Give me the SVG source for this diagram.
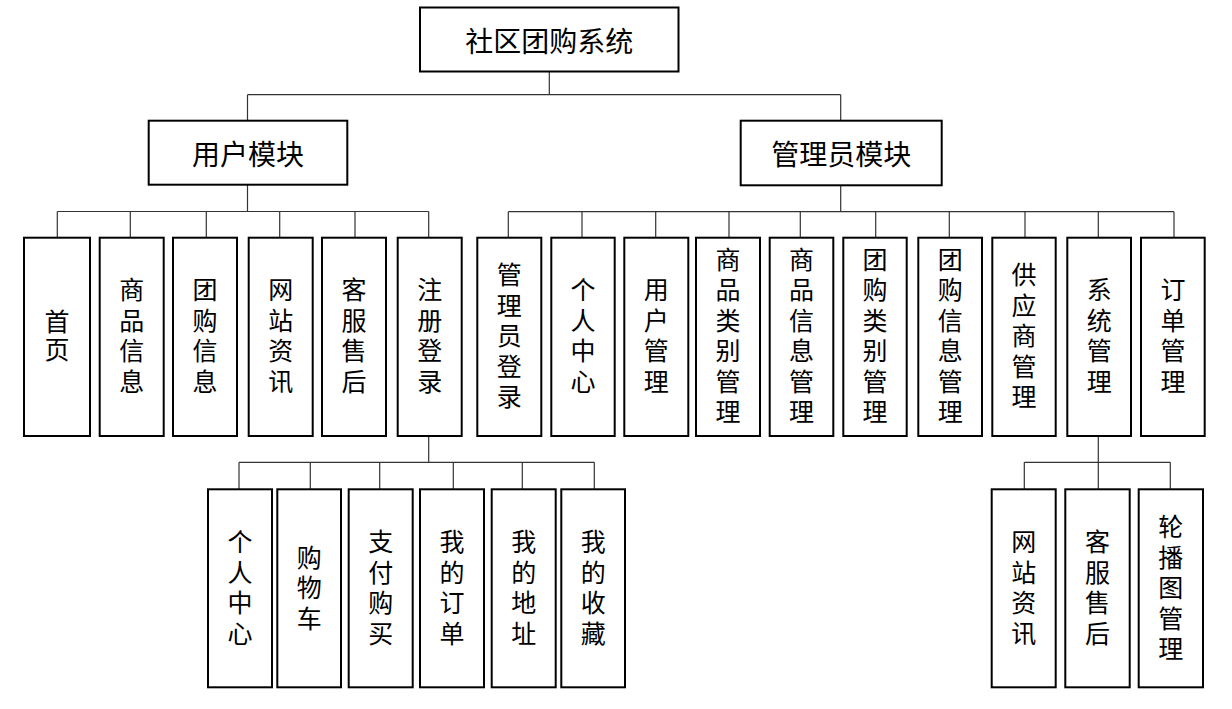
<svg xmlns="http://www.w3.org/2000/svg" width="1232" height="709" viewBox="0 0 1232 709">
<style>
.box{fill:#fff;stroke:#000;stroke-width:2}
.ln{fill:none;stroke:#333;stroke-width:1.2}
.h{font-family:"Noto Sans CJK SC","Liberation Serif",sans-serif;font-size:28px;fill:#000;text-anchor:middle;dominant-baseline:central}
.v{font-family:"Noto Sans CJK SC","Liberation Serif",sans-serif;font-size:25px;fill:#000;text-anchor:middle;writing-mode:vertical-rl;letter-spacing:5.5px}
</style>
<rect width="1232" height="709" fill="#fff"/>
<g id="connectors">
<path class="ln" d="M549.3 71.3V94.7M247.5 94.7H840.7M247.5 94.7V120.7M840.7 94.7V120.7"/>
<path class="ln" d="M247.5 184.7V211.5M57.3 211.5H428.7M57.3 211.5V237.7M130.3 211.5V237.7M206.3 211.5V237.7M279.7 211.5V237.7M355 211.5V237.7M428.7 211.5V237.7"/>
<path class="ln" d="M840.7 185.3V211.7M508.3 211.7H1174M508.3 211.7V237.7M582 211.7V237.7M655.7 211.7V237.7M729 211.7V237.7M800.3 211.7V237.7M875.7 211.7V237.7M949.3 211.7V237.7M1025 211.7V237.7M1098.3 211.7V237.7M1174 211.7V237.7"/>
<path class="ln" d="M428.7 436V462.3M239 462.3H594.3M239 462.3V489.3M310.3 462.3V489.3M379.7 462.3V489.3M453.3 462.3V489.3M522.3 462.3V489.3M594.3 462.3V489.3"/>
<path class="ln" d="M1098.3 436V462.3M1024.3 462.3H1170.3M1024.3 462.3V489.3M1098.3 462.3V489.3M1170.3 462.3V489.3"/>
</g>
<g id="root"><rect class="box" x="420" y="7.5" width="258.5" height="64"/><text class="h" x="549.3" y="39.5">社区团购系统</text></g>
<g id="user"><rect class="box" x="148.7" y="120.7" width="198.6" height="64"/><text class="h" x="248" y="152.7">用户模块</text></g>
<g id="admin"><rect class="box" x="740.7" y="120.7" width="201" height="64.6"/><text class="h" x="841.2" y="153">管理员模块</text></g>

<g id="u1"><rect class="box" x="24" y="237.7" width="66" height="198.3"/><text class="v" x="57" y="337" style="letter-spacing:3px">首页</text></g>
<g id="u2"><rect class="box" x="99.7" y="237.7" width="64" height="198.3"/><text class="v" x="131.7" y="338.25">商品信息</text></g>
<g id="u3"><rect class="box" x="173" y="237.7" width="64" height="198.3"/><text class="v" x="205" y="338.25">团购信息</text></g>
<g id="u4"><rect class="box" x="248.7" y="237.7" width="64" height="198.3"/><text class="v" x="280.7" y="338.25">网站资讯</text></g>
<g id="u5"><rect class="box" x="322" y="237.7" width="64" height="198.3"/><text class="v" x="354" y="338.25">客服售后</text></g>
<g id="u6"><rect class="box" x="397.7" y="237.7" width="64" height="198.3"/><text class="v" x="429.7" y="338.25">注册登录</text></g>

<g id="a1"><rect class="box" x="477.3" y="237.7" width="64" height="198.3"/><text class="v" x="509.3" y="338.25">管理员登录</text></g>
<g id="a2"><rect class="box" x="551.3" y="237.7" width="63.4" height="198.3"/><text class="v" x="583" y="338.25">个人中心</text></g>
<g id="a3"><rect class="box" x="624.3" y="237.7" width="64" height="198.3"/><text class="v" x="656.3" y="338.25">用户管理</text></g>
<g id="a4"><rect class="box" x="696" y="237.7" width="64" height="198.3"/><text class="v" x="728" y="338.25">商品类别管理</text></g>
<g id="a5"><rect class="box" x="769.7" y="237.7" width="63.6" height="198.3"/><text class="v" x="801.5" y="338.25">商品信息管理</text></g>
<g id="a6"><rect class="box" x="843.3" y="237.7" width="63.4" height="198.3"/><text class="v" x="875" y="338.25">团购类别管理</text></g>
<g id="a7"><rect class="box" x="918.3" y="237.7" width="63.7" height="198.3"/><text class="v" x="950.2" y="338.25">团购信息管理</text></g>
<g id="a8"><rect class="box" x="992.3" y="237.7" width="63.4" height="198.3"/><text class="v" x="1024" y="338.25">供应商管理</text></g>
<g id="a9"><rect class="box" x="1067.3" y="237.7" width="63.7" height="198.3"/><text class="v" x="1099.2" y="338.25">系统管理</text></g>
<g id="a10"><rect class="box" x="1141" y="237.7" width="63.7" height="198.3"/><text class="v" x="1172.9" y="338.25">订单管理</text></g>

<g id="r1"><rect class="box" x="208" y="489.3" width="64" height="198"/><text class="v" x="240" y="590.25">个人中心</text></g>
<g id="r2"><rect class="box" x="277.3" y="489.3" width="63.7" height="198"/><text class="v" x="309.2" y="590.25">购物车</text></g>
<g id="r3"><rect class="box" x="348.7" y="489.3" width="64" height="198"/><text class="v" x="380.7" y="590.25">支付购买</text></g>
<g id="r4"><rect class="box" x="420" y="489.3" width="64" height="198"/><text class="v" x="452" y="590.25">我的订单</text></g>
<g id="r5"><rect class="box" x="491.7" y="489.3" width="64" height="198"/><text class="v" x="523.7" y="590.25">我的地址</text></g>
<g id="r6"><rect class="box" x="561.3" y="489.3" width="63.7" height="198"/><text class="v" x="593.2" y="590.25">我的收藏</text></g>

<g id="s1"><rect class="box" x="991.7" y="489.3" width="64" height="198"/><text class="v" x="1023.7" y="590.25">网站资讯</text></g>
<g id="s2"><rect class="box" x="1065.3" y="489.3" width="64.4" height="198"/><text class="v" x="1097.5" y="590.25">客服售后</text></g>
<g id="s3"><rect class="box" x="1138.7" y="489.3" width="64.3" height="198"/><text class="v" x="1170.8" y="590.25">轮播图管理</text></g>
</svg>
